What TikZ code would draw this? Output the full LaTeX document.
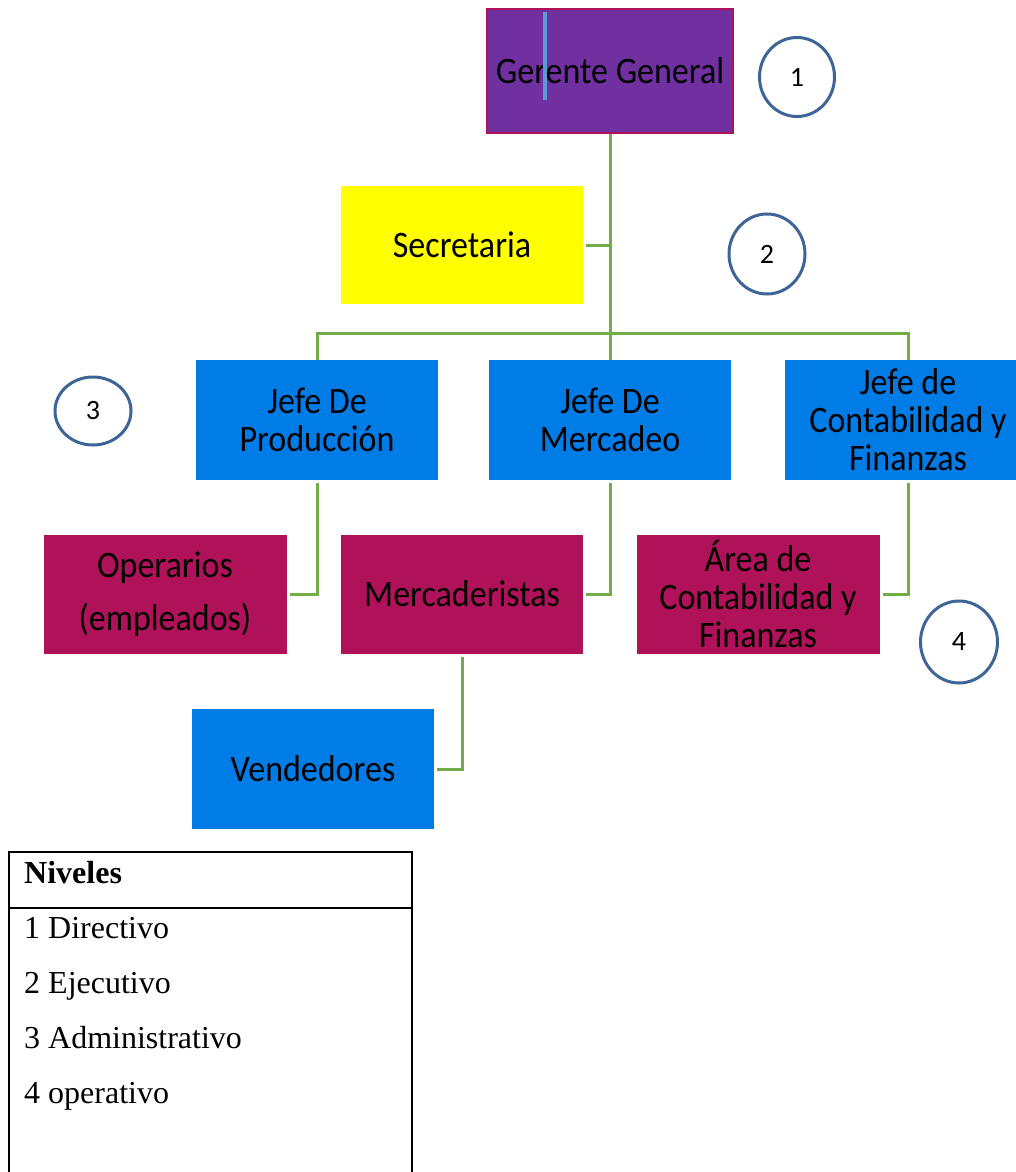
\documentclass[tikz,border=0pt]{standalone}
\usepackage{fontspec}
\usepackage{graphicx}
\setmainfont{Liberation Serif}
\newfontfamily\boxfont{Carlito}
\usetikzlibrary{shapes.geometric}
\definecolor{purp}{RGB}{112,48,160}
\definecolor{crim}{RGB}{176,18,90}
\definecolor{jblue}{RGB}{0,124,230}
\definecolor{lgreen}{RGB}{112,173,71}
\definecolor{cblue}{RGB}{62,101,151}
\definecolor{barblue}{RGB}{91,155,213}
\definecolor{yel}{RGB}{255,255,0}
\newcommand\tl[1]{\scalebox{1}[1.1]{#1}}
\tikzset{
  box/.style={draw=none, minimum width=242, minimum height=119, inner sep=0,
    font=\boxfont\fontsize{34}{38}\selectfont, align=center, text=black},
  circ/.style={ellipse, draw=cblue, line width=3, inner sep=0, fill=white,
    font=\boxfont\fontsize{28}{30}\selectfont},
  conn/.style={draw=lgreen, line width=3},
  legtxt/.style={anchor=base west, inner sep=0, font=\fontsize{32}{36}\selectfont}
}
\begin{document}
\begin{tikzpicture}[x=1pt,y=-1pt]
\useasboundingbox (0,0) rectangle (1015,1172);
% top
\node[box, fill=purp, draw=crim, line width=2, minimum width=246, minimum height=124] (gg) at (610,71) {\tl{Gerente General}};
\fill[barblue] (543,12) rectangle (547,100);
\node[circ, minimum width=75, minimum height=79] (c1) at (797,77) {1};
\node[box, fill=yel, minimum height=118] (sec) at (462,245) {\tl{Secretaria}};
\node[circ, minimum width=76, minimum height=80] (c2) at (767,254) {2};
% jefes
\node[box, fill=jblue, minimum height=120] (jp) at (317,420) {\tl{Jefe De}\\\tl{Producción}};
\node[box, fill=jblue, minimum height=120] (jm) at (610,420) {\tl{Jefe De}\\\tl{Mercadeo}};
\node[box, fill=jblue, minimum width=246, minimum height=120] (jc) at (908,420) {\tl{Jefe de}\\\tl{Contabilidad y}\\\tl{Finanzas}};
\node[circ, minimum width=76, minimum height=68] (c3) at (93,411) {3};
% operativos
\node[box, fill=crim, minimum width=243] (op) at (165,594) {\tl{Operarios}\\[15pt]\tl{(empleados)}};
\node[box, fill=crim] (me) at (462,594) {\tl{Mercaderistas}};
\node[box, fill=crim, minimum width=243] (ar) at (758,594) {\tl{Área de}\\\tl{Contabilidad y}\\\tl{Finanzas}};
\node[circ, minimum width=77, minimum height=82] (c4) at (959,642) {4};
\node[box, fill=jblue, minimum height=120] (ve) at (313,769) {\tl{Vendedores}};
% connectors
\coordinate (hub) at (610,333);
\draw[conn] (gg.south) -- (hub);
\draw[conn] ([xshift=3]sec.east) -- (sec.east -| hub);
\draw[conn] (jp.north) |- (hub) -| (jc.north);
\draw[conn] (hub) -- (jm.north);
\draw[conn] ([yshift=-3]jp.south) |- ([xshift=3]op.east);
\draw[conn] ([yshift=-3]jm.south) |- ([xshift=3]me.east);
\draw[conn] ([yshift=-3]jc.south) |- ([xshift=3]ar.east);
\draw[conn] ([yshift=-3]me.south) |- ([xshift=3]ve.east);
% legend
\draw[line width=1.2] (9,1180) -- (9,852) -- (412,852) -- (412,1180);
\draw[line width=1.2] (9,908) -- (412,908);
\node[legtxt, font=\bfseries\fontsize{32}{36}\selectfont] (niv) at (24,883) {Niveles};
\node[legtxt] (l1) at (24,938) {1 Directivo};
\node[legtxt] (l2) at (24,993) {2 Ejecutivo};
\node[legtxt] (l3) at (24,1048) {3 Administrativo};
\node[legtxt] (l4) at (24,1103) {4 operativo};
\end{tikzpicture}
\end{document}
